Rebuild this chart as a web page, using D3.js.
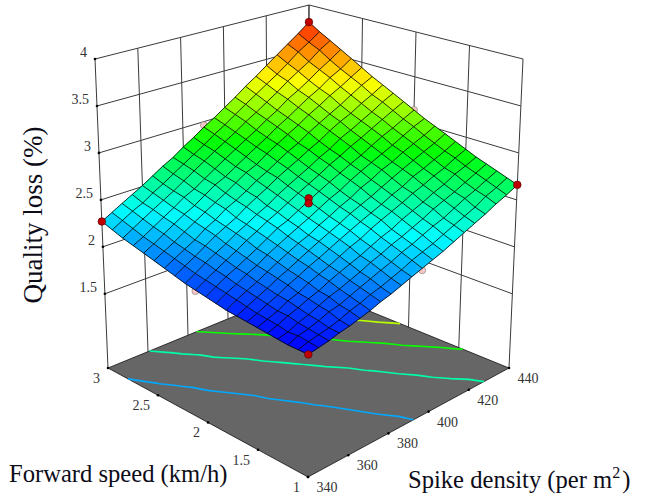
<!DOCTYPE html>
<html>
<head>
<meta charset="utf-8">
<style>
	html, body { margin: 0; padding: 0; background: #fff; }
	svg { display: block; }
	text { font-family: "Liberation Serif", serif; }
</style>
<script src="https://cdn.jsdelivr.net/npm/d3@7"></script>
</head>
<body>
<svg width="647" height="497"></svg>
<script>

var speedTicks = [1, 1.5, 2, 2.5, 3],
	densityTicks = [340, 360, 380, 400, 420, 440],
	lossTicks = [1.5, 2, 2.5, 3, 3.5, 4],
	contourLevels = [2.19, 2.52, 2.85, 3.18, 3.51];

// rows: forward speed 1 to 3, columns: spike density 340 to 440
var speedGrid = d3.range(21).map(function(i) { return 1 + i * 0.1; }),
	densityGrid = d3.range(21).map(function(j) { return 340 + j * 5; });

var lossGrid = [
	[1.87,1.89,1.91,1.94,1.96,1.99,2.02,2.06,2.09,2.13,2.17,2.21,2.25,2.29,2.34,2.39,2.44,2.49,2.55,2.60,2.66],
	[1.87,1.90,1.92,1.94,1.97,2.01,2.04,2.08,2.11,2.15,2.19,2.24,2.28,2.32,2.37,2.42,2.47,2.52,2.59,2.64,2.70],
	[1.87,1.91,1.93,1.96,2.00,2.02,2.06,2.10,2.14,2.18,2.22,2.27,2.31,2.36,2.41,2.45,2.51,2.57,2.62,2.68,2.74],
	[1.88,1.90,1.94,1.97,2.01,2.05,2.08,2.12,2.16,2.21,2.25,2.30,2.34,2.39,2.44,2.50,2.55,2.60,2.66,2.72,2.78],
	[1.89,1.92,1.96,1.99,2.03,2.06,2.11,2.15,2.19,2.23,2.28,2.33,2.37,2.43,2.48,2.53,2.59,2.64,2.71,2.76,2.82],
	[1.90,1.93,1.96,2.01,2.04,2.09,2.13,2.17,2.22,2.27,2.31,2.37,2.42,2.47,2.52,2.58,2.63,2.69,2.74,2.81,2.87],
	[1.91,1.94,1.98,2.02,2.07,2.11,2.16,2.20,2.25,2.30,2.35,2.40,2.45,2.50,2.56,2.61,2.68,2.73,2.79,2.85,2.92],
	[1.92,1.96,2.00,2.04,2.09,2.13,2.18,2.23,2.28,2.33,2.38,2.44,2.49,2.54,2.60,2.66,2.72,2.78,2.84,2.90,2.97],
	[1.93,1.98,2.02,2.06,2.11,2.16,2.21,2.26,2.30,2.36,2.41,2.47,2.52,2.59,2.64,2.71,2.76,2.83,2.89,2.95,3.02],
	[1.95,2.00,2.04,2.09,2.13,2.19,2.24,2.29,2.34,2.39,2.45,2.51,2.56,2.63,2.69,2.75,2.81,2.87,2.94,3.01,3.07],
	[1.97,2.02,2.07,2.11,2.16,2.21,2.27,2.33,2.37,2.43,2.49,2.55,2.61,2.67,2.73,2.79,2.86,2.93,2.99,3.06,3.13],
	[1.99,2.04,2.09,2.14,2.19,2.25,2.30,2.36,2.41,2.47,2.53,2.59,2.65,2.72,2.78,2.85,2.91,2.98,3.05,3.12,3.19],
	[2.01,2.06,2.12,2.17,2.22,2.28,2.33,2.39,2.44,2.51,2.57,2.63,2.69,2.76,2.82,2.90,2.96,3.03,3.10,3.18,3.25],
	[2.04,2.09,2.14,2.20,2.26,2.31,2.36,2.43,2.49,2.55,2.62,2.68,2.74,2.81,2.87,2.95,3.02,3.08,3.16,3.23,3.31],
	[2.07,2.12,2.17,2.22,2.29,2.34,2.41,2.46,2.52,2.59,2.65,2.72,2.79,2.85,2.93,3.00,3.07,3.14,3.22,3.30,3.37],
	[2.10,2.15,2.20,2.26,2.32,2.38,2.44,2.50,2.57,2.64,2.69,2.77,2.84,2.91,2.98,3.06,3.13,3.21,3.28,3.36,3.44],
	[2.13,2.18,2.24,2.30,2.36,2.41,2.48,2.55,2.60,2.67,2.74,2.81,2.88,2.96,3.03,3.11,3.19,3.26,3.35,3.42,3.51],
	[2.16,2.21,2.27,2.33,2.39,2.46,2.51,2.58,2.65,2.72,2.79,2.86,2.93,3.01,3.08,3.17,3.24,3.32,3.41,3.49,3.58],
	[2.19,2.25,2.31,2.37,2.43,2.49,2.56,2.63,2.70,2.77,2.84,2.91,2.99,3.06,3.14,3.22,3.31,3.39,3.47,3.57,3.65],
	[2.23,2.29,2.35,2.40,2.47,2.53,2.60,2.67,2.74,2.81,2.89,2.96,3.04,3.12,3.20,3.28,3.36,3.45,3.55,3.63,3.72],
	[2.27,2.33,2.39,2.45,2.51,2.58,2.65,2.71,2.79,2.86,2.94,3.01,3.09,3.17,3.26,3.34,3.43,3.52,3.61,3.70,3.80]
];

// design points: the red ones lie above the surface, the pale ones below it
var upperSpeed = [1, 3, 3, 1, 2, 2],
	upperDensity = [340, 340, 440, 440, 390, 390],
	upperLoss = [1.87, 2.27, 3.8, 2.66, 2.516, 2.463],
	lowerSpeed = [3, 2, 2.1, 1],
	lowerDensity = [390, 440, 340, 395],
	lowerLoss = [2.96, 3.13, 1.98, 2.19];

// scales and the projection of the box........................................

var uScale = d3.scaleLinear().domain([340, 440]).range([0, 1]),
	vScale = d3.scaleLinear().domain([1, 3]).range([0, 1]),
	wScale = d3.scaleLinear().domain([0.71, 4]).range([0, 1]),
	colorScale = d3.scaleLinear()
		.domain([1.87, 2.3525, 2.835, 3.3175, 3.8])
		.range(["#0000ff", "#00ffff", "#00ff00", "#ffff00", "#ff2000"]);

// screen corners of the box, named by (density, speed, height)
var corners = {
	"000": [308, 477], "100": [509, 368], "010": [108, 368], "110": [308, 286],
	"001": [309, 129.5], "101": [523, 59], "011": [95, 59], "111": [309, 5]
};

function project(speed, density, loss) {
	var u = uScale(density), v = vScale(speed), w = wScale(loss), p = [0, 0];

	[0, 1].forEach(function(a) {
		[0, 1].forEach(function(b) {
			[0, 1].forEach(function(c) {
				var k = (a ? u : 1 - u) * (b ? v : 1 - v) * (c ? w : 1 - w),
					q = corners["" + a + b + c];
				p[0] += k * q[0];
				p[1] += k * q[1];
			});
		});
	});

	// perspective lifts the middle of each plane, edges stay evenly ticked
	p[1] -= 16 * (7 - 3 * w) * u * (1 - u) * v * (1 - v);
	return p;
}

var svg = d3.select("svg"),
	floorLoss = wScale.domain()[0],
	topLoss = wScale.domain()[1],
	line = d3.line();

// walls.......................................................................

var walls = svg.append("g")
	.attr("fill", "none")
	.attr("stroke", "#3a3a3a")
	.attr("stroke-width", 1);

function wallLine(a, b) {
	walls.append("path").attr("d", line([a, b]));
}

lossTicks.forEach(function(z) {
	wallLine(project(3, 340, z), project(3, 440, z));
	wallLine(project(3, 440, z), project(1, 440, z));
});
densityTicks.forEach(function(d) {
	wallLine(project(3, d, floorLoss), project(3, d, topLoss));
});
speedTicks.forEach(function(s) {
	wallLine(project(s, 440, floorLoss), project(s, 440, topLoss));
});

// floor and contours..........................................................

svg.append("path")
	.attr("d", line([project(1, 340, floorLoss), project(1, 440, floorLoss),
		project(3, 440, floorLoss), project(3, 340, floorLoss)]) + "Z")
	.attr("fill", "#666666")
	.attr("stroke", "#111")
	.attr("stroke-width", 0.8);

var contours = d3.contours()
	.size([21, 21])
	.thresholds(contourLevels)(d3.merge(lossGrid));

function gridPoint(c) {
	var j = Math.max(0, Math.min(20, c[0] - 0.5)),
		i = Math.max(0, Math.min(20, c[1] - 0.5));
	return project(1 + i * 0.1, 340 + j * 5, floorLoss);
}

function onRim(c) {
	return c[0] <= 0.01 || c[0] >= 20.99 || c[1] <= 0.01 || c[1] >= 20.99;
}

contours.forEach(function(contour) {
	var d = "";
	contour.coordinates.forEach(function(polygon) {
		polygon.forEach(function(ring) {
			for(var k = 1; k < ring.length; k++)
				if(!onRim(ring[k - 1]) && !onRim(ring[k]))
					d += line([gridPoint(ring[k - 1]), gridPoint(ring[k])]);
		});
	});
	svg.append("path")
		.attr("d", d)
		.attr("fill", "none")
		.attr("stroke", colorScale(contour.value))
		.attr("stroke-width", 1.6);
});

// pale design points, behind the surface......................................

svg.append("g").selectAll("circle")
	.data(lowerSpeed)
	.enter().append("circle")
		.attr("cx", function(d, i) { return project(d, lowerDensity[i], lowerLoss[i])[0]; })
		.attr("cy", function(d, i) { return project(d, lowerDensity[i], lowerLoss[i])[1]; })
		.attr("r", 3.5)
		.attr("fill", "#f6c6c6")
		.attr("stroke", "#8a8a8a")
		.attr("stroke-width", 0.7);

// surface.....................................................................

var cells = [];
d3.range(20).forEach(function(i) {
	d3.range(20).forEach(function(j) {
		cells.push([i, j]);
	});
});

function node(i, j) {
	return project(speedGrid[i], densityGrid[j], lossGrid[i][j]);
}

function cellColor(c) {
	var i = c[0], j = c[1];
	return colorScale(d3.mean([lossGrid[i][j], lossGrid[i + 1][j],
		lossGrid[i + 1][j + 1], lossGrid[i][j + 1]]));
}

svg.append("g").selectAll("path")
	.data(cells)
	.enter().append("path")
		.attr("d", function(c) {
			var i = c[0], j = c[1];
			return line([node(i, j), node(i + 1, j), node(i + 1, j + 1), node(i, j + 1)]) + "Z";
		})
		.attr("fill", cellColor)
		.attr("stroke", cellColor)
		.attr("stroke-width", 0.5);

var mesh = svg.append("g")
	.attr("fill", "none")
	.attr("stroke", "#000")
	.attr("stroke-opacity", 0.9)
	.attr("stroke-width", 0.9);

d3.range(21).forEach(function(i) {
	mesh.append("path").attr("d", line(d3.range(21).map(function(j) { return node(i, j); })));
	mesh.append("path").attr("d", line(d3.range(21).map(function(j) { return node(j, i); })));
});

// red design points...........................................................

svg.append("g").selectAll("circle")
	.data(upperSpeed)
	.enter().append("circle")
		.attr("cx", function(d, i) { return project(d, upperDensity[i], upperLoss[i])[0]; })
		.attr("cy", function(d, i) { return project(d, upperDensity[i], upperLoss[i])[1]; })
		.attr("r", 3.8)
		.attr("fill", "#c00000")
		.attr("stroke", "#5a0000")
		.attr("stroke-width", 0.7);

// ticks and labels............................................................

function tickDot(p) {
	svg.append("circle")
		.attr("cx", p[0])
		.attr("cy", p[1])
		.attr("r", 1.3)
		.attr("fill", "#000");
}

function tickLabel(p, dx, dy, anchor, label) {
	svg.append("text")
		.attr("x", p[0] + dx)
		.attr("y", p[1] + dy)
		.attr("dy", "0.35em")
		.attr("text-anchor", anchor)
		.attr("font-size", 14)
		.attr("fill", "#333")
		.text(label);
}

lossTicks.forEach(function(z) {
	var p = project(3, 340, z);
	tickDot(p);
	tickLabel(p, -8, -7, "end", z);
});
speedTicks.forEach(function(s) {
	var p = project(s, 340, floorLoss);
	tickDot(p);
	tickLabel(p, -8, 10, "end", s);
});
densityTicks.forEach(function(d) {
	var p = project(1, d, floorLoss);
	tickDot(p);
	tickLabel(p, 19, 10, "middle", d);
});

svg.append("text")
	.attr("transform", "translate(42,215) rotate(-90)")
	.attr("text-anchor", "middle")
	.attr("font-size", 27)
	.attr("fill", "#0c0c18")
	.text("Quality loss (%)");

svg.append("text")
	.attr("x", 9)
	.attr("y", 482)
	.attr("font-size", 24.6)
	.attr("fill", "#0c0c18")
	.text("Forward speed (km/h)");

var spikeTitle = svg.append("text")
	.attr("x", 408)
	.attr("y", 488)
	.attr("font-size", 24.6)
	.attr("fill", "#0c0c18");
spikeTitle.append("tspan").text("Spike density (per m");
spikeTitle.append("tspan").attr("dy", -10).attr("font-size", 16).text("2");
spikeTitle.append("tspan").attr("dy", 10).attr("dx", 2).text(")");
</script>
</body>
</html>
